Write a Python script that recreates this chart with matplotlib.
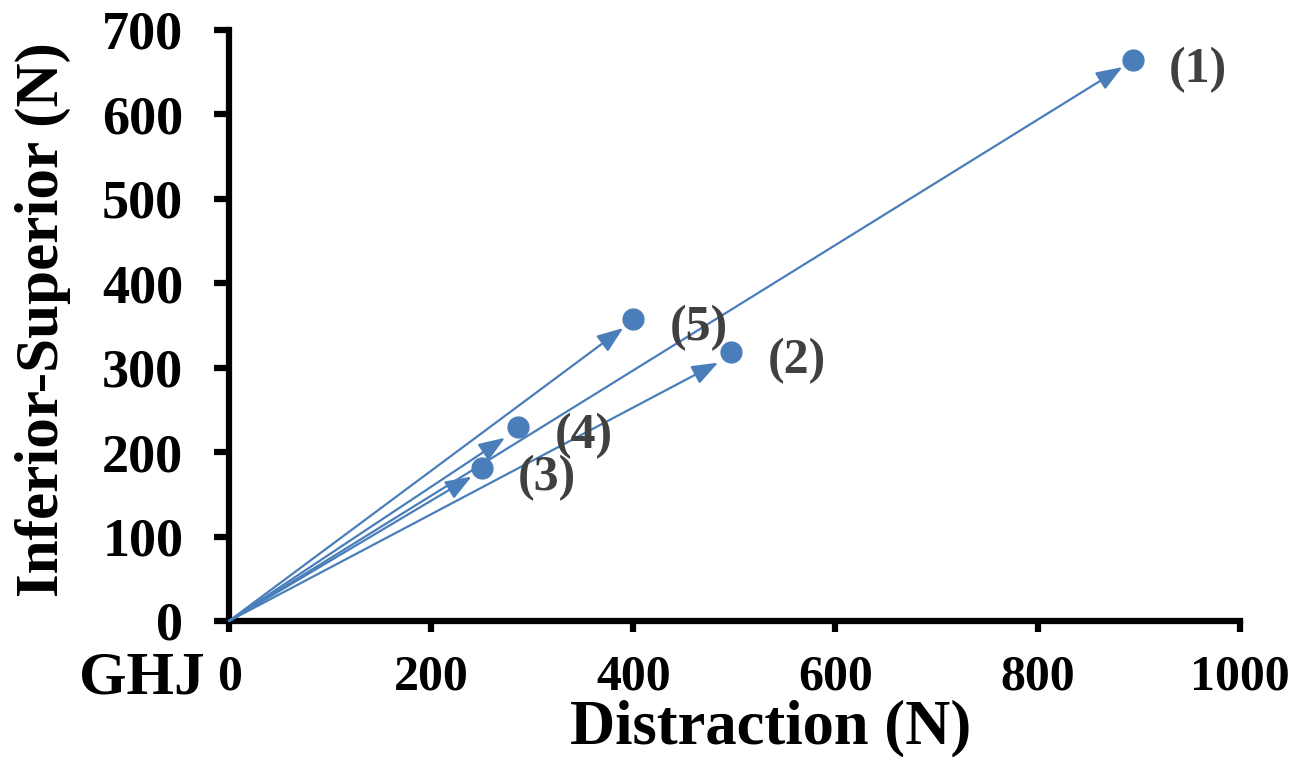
import numpy as np
import matplotlib
matplotlib.use("Agg")
import matplotlib.pyplot as plt

# points at the end of each force vector
labels = ["(1)", "(2)", "(3)", "(4)", "(5)"]
point_x = [894, 497, 250, 286, 400]
point_y = [664, 319, 181, 230, 358]
# where each arrow stops (a little short of the point)
tip_x = [884, 484, 240, 273, 390]
tip_y = [656, 306, 171, 217, 347]

x_ticks = [0, 200, 400, 600, 800, 1000]
y_ticks = [0, 100, 200, 300, 400, 500, 600, 700]

blue = "#4a7ebb"
plt.rcParams["font.family"] = ["Liberation Serif", "DejaVu Serif"]
plt.rcParams["font.weight"] = "bold"

fig = plt.figure(figsize=(13.09, 7.57), dpi=100)
ax = fig.add_axes([0.175, 0.1797, 0.772, 0.7807])

# arrows from the origin (GHJ)
for tx, ty in zip(tip_x, tip_y):
    ax.annotate("", xy=(tx, ty), xytext=(0, 0),
                arrowprops=dict(arrowstyle="-|>,head_length=1.6,head_width=0.6",
                                color=blue, lw=1.6, shrinkA=0, shrinkB=0))

ax.plot(point_x, point_y, "o", color=blue, markersize=15, zorder=3)
for px, py, lab in zip(point_x, point_y, labels):
    ax.annotate(lab, (px, py), xytext=(47, -7), textcoords="offset points",
                ha="center", va="center", fontsize=36, fontweight="bold",
                color="#404040")

ax.set_xlim(0, 1000)
ax.set_ylim(0, 700)
ax.set_xticks(x_ticks)
ax.set_yticks(y_ticks)
ax.tick_params(axis="x", direction="out", length=8, width=4.5, labelsize=36, pad=16)
ax.tick_params(axis="y", direction="out", length=11, width=4.5, labelsize=39, pad=22)
for lab in ax.get_xticklabels() + ax.get_yticklabels():
    lab.set_fontweight("bold")

for s in ["top", "right"]:
    ax.spines[s].set_visible(False)
for s in ["left", "bottom"]:
    ax.spines[s].set_linewidth(4.5)

fig.text(771 / 1309, 1 - 728 / 757, "Distraction (N)", fontsize=45,
         fontweight="bold", ha="center", va="center")
fig.text(43 / 1309, 1 - 320 / 757, "Inferior-Superior (N)", fontsize=44,
         fontweight="bold", ha="center", va="center", rotation=90)

fig.text(142 / 1309, 1 - 678 / 757, "GHJ", fontsize=44, fontweight="bold",
         ha="center", va="center")

fig.savefig("out.png", dpi=100)
